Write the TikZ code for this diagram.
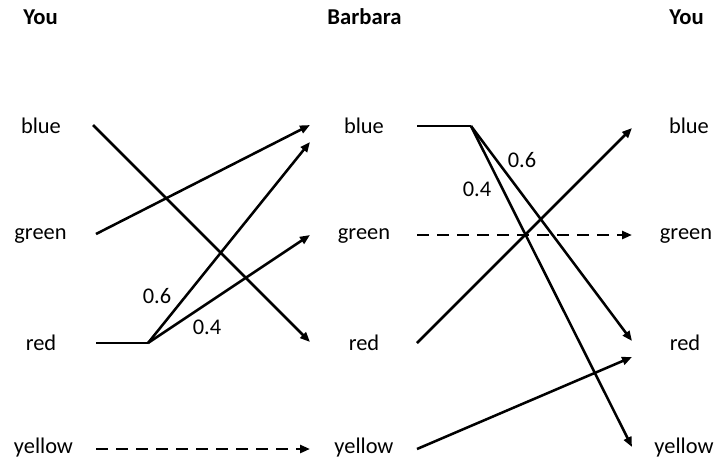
\documentclass[tikz,border=0pt]{standalone}
\usepackage{fontspec}
\setmainfont{Carlito}
\usetikzlibrary{arrows.meta}
\begin{document}
\begin{tikzpicture}[x=0.75pt,y=-0.75pt,
  lbl/.style={font=\fontsize{16.8}{20}\selectfont, inner sep=0pt},
  head/.style={font=\fontsize{17}{20}\selectfont\bfseries, inner sep=0pt},
  prob/.style={font=\fontsize{16.8}{20}\selectfont, inner sep=0pt},
  link/.style={line width=1.9pt, line cap=butt},
  arr/.style={link, -{Triangle[length=7.5pt,width=6pt]}},
  darr/.style={arr, dash pattern=on 9pt off 6pt}]
\useasboundingbox (0,0) rectangle (714,462);

% column headers
\node[head] (hL) at (40.5,17) {You};
\node[head] (hM) at (364.5,17) {Barbara};
\node[head] (hR) at (686.5,17) {You};

% colour labels, three columns
\foreach \c/\y/\xl/\xr in {blue/126/41/689,green/236/40.5/686,red/343/41/685,yellow/448/43.5/684}{
  \node[lbl] (L-\c) at (\xl,\y) {\c};
  \node[lbl] (M-\c) at (364,\y) {\c};
  \node[lbl] (R-\c) at (\xr,\y) {\c};
}

% connector end points
\coordinate (a1) at (93,125);   \coordinate (b1) at (310,342);
\coordinate (a2) at (96,234);   \coordinate (b2) at (310,125);
\coordinate (a3) at (96,343);   \coordinate (k1) at (148,343);
\coordinate (b3) at (310,142);  \coordinate (b4) at (310,235);
\coordinate (a4) at (96,449);   \coordinate (b5) at (310,449);

\coordinate (c1) at (417,126);  \coordinate (k2) at (471,126);
\coordinate (d1) at (632,341);  \coordinate (d2) at (632,447);
\coordinate (c2) at (417,235);  \coordinate (d3) at (632,235);
\coordinate (c3) at (417,343);  \coordinate (d4) at (632,128);
\coordinate (c4) at (417,449);  \coordinate (d5) at (632,357);

% left half: You -> Barbara
\draw[arr] (a1) -- (b1);
\draw[arr] (a2) -- (b2);
\draw[link] (a3) -- (k1);
\draw[arr] (k1) -- (b3);
\draw[arr] (k1) -- (b4);
\draw[darr] (a4) -- (b5);
\node[prob] (p6a) at (157,296) {0.6};
\node[prob] (p4a) at (207,327) {0.4};

% right half: Barbara -> You
\draw[link] (c1) -- (k2);
\draw[arr] (k2) -- (d1);
\draw[arr] (k2) -- (d2);
\draw[darr] (c2) -- (d3);
\draw[arr] (c3) -- (d4);
\draw[arr] (c4) -- (d5);
\node[prob] (p6b) at (522,160) {0.6};
\node[prob] (p4b) at (477,189) {0.4};
\end{tikzpicture}
\end{document}
